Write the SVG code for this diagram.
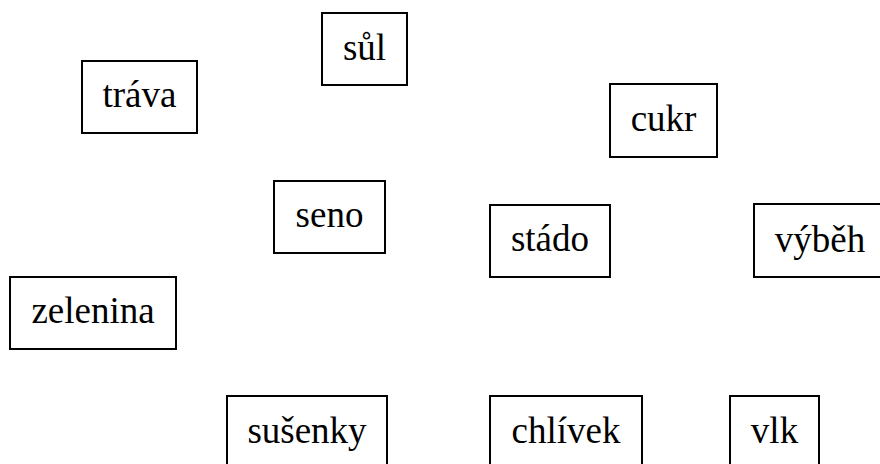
<svg xmlns="http://www.w3.org/2000/svg" width="880" height="464" viewBox="0 0 880 464">
<style>
  .box { fill: #fff; stroke: #000; stroke-width: 2; }
  .lbl { font-family: "Liberation Serif", "Times New Roman", serif; font-size: 37px; fill: #000; text-anchor: middle; }
</style>
<rect width="880" height="464" fill="#fff"/>
<g id="connectors"></g>
<g id="trava"><rect class="box" x="82" y="61" width="115" height="72"/><text class="lbl" x="139.5" y="107">tráva</text></g>
<g id="sul"><rect class="box" x="322" y="13" width="85" height="72"/><text class="lbl" x="364.5" y="59.5">sůl</text></g>
<g id="cukr"><rect class="box" x="610" y="84" width="107" height="73"/><text class="lbl" x="663.5" y="130.5">cukr</text></g>
<g id="seno"><rect class="box" x="274" y="181" width="111" height="72"/><text class="lbl" x="329.5" y="226.5">seno</text></g>
<g id="stado"><rect class="box" x="490" y="205" width="120" height="72"/><text class="lbl" x="550" y="251">stádo</text></g>
<g id="vybeh"><rect class="box" x="754" y="204" width="132" height="73"/><text class="lbl" x="820" y="251.5">výběh</text></g>
<g id="zelenina"><rect class="box" x="10" y="277" width="166" height="72"/><text class="lbl" x="93" y="323">zelenina</text></g>
<g id="susenky"><rect class="box" x="227" y="396" width="160" height="72"/><text class="lbl" x="307" y="443">sušenky</text></g>
<g id="chlivek"><rect class="box" x="490" y="396" width="152" height="72"/><text class="lbl" x="566" y="443">chlívek</text></g>
<g id="vlk"><rect class="box" x="730" y="396" width="89" height="72"/><text class="lbl" x="774.5" y="443">vlk</text></g>
</svg>
